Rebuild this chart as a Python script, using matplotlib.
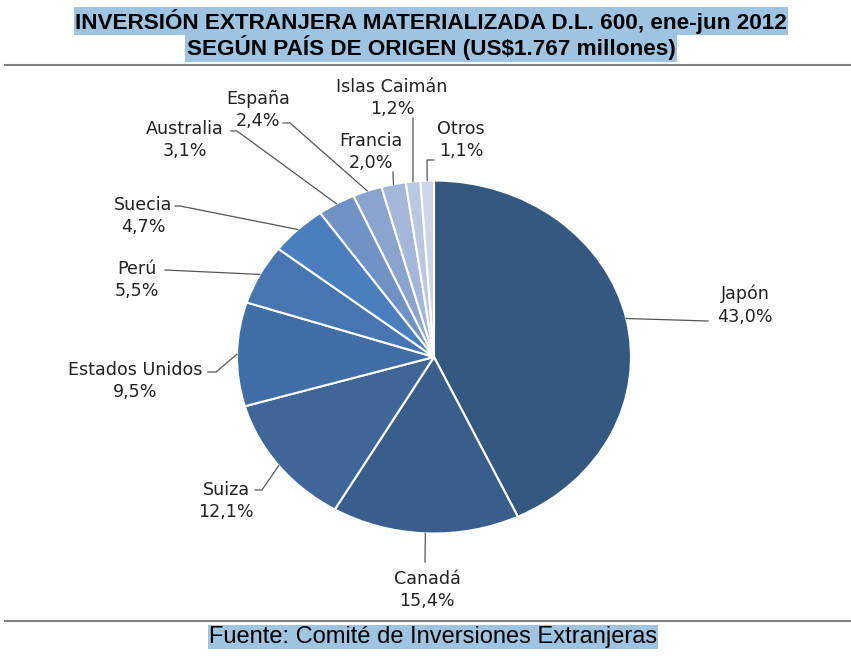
import matplotlib.pyplot as plt
import numpy as np

paises = ["Japón", "Canadá", "Suiza", "Estados Unidos", "Perú", "Suecia",
          "Australia", "España", "Francia", "Islas Caimán", "Otros"]
porcentajes = [43.0, 15.4, 12.1, 9.5, 5.5, 4.7, 3.1, 2.4, 2.0, 1.2, 1.1]
colores = ["#34587f", "#3a5e8c", "#3e6699", "#416ea6", "#4775af", "#4a7ebc",
           "#6f91c4", "#8ba4cf", "#a5b7d9", "#b9c7e1", "#cbd6ea"]

titulo_1 = "INVERSIÓN EXTRANJERA MATERIALIZADA D.L. 600, ene-jun 2012"
titulo_2 = "SEGÚN PAÍS DE ORIGEN (US$1.767 millones)"
fuente = "Fuente: Comité de Inversiones Extranjeras"

# pie placement in pixels (the original is a bit stretched horizontally)
cx, cy, rx, ry = 434, 357, 197, 176.5
W, H = 851, 659

# label centers and leader-line elbows, in pixels
label_pos = [(745, 305), (427, 590), (226, 501), (135, 381), (137, 280), (143, 216),
             (185, 140), (258, 110), (371, 152), (392, 98), (461, 140)]
elbows = [[(708, 321)], [(425, 562)], [(262, 490), (255, 490)],
          [(216, 372), (208, 372)], [(165, 270)], [(180, 206), (175, 206)],
          [(237, 131), (231, 131)], [(290, 123), (283, 123)], [(393, 172)],
          [(413, 118)], [(427, 160), (434, 160)]]


def px(x, y):
    return (x - cx) / rx, (cy - y) / ry


title_font = ["Liberation Sans", "DejaVu Sans"]
label_font = ["DejaVu Sans"]
highlight = "#9fc4e2"

fig = plt.figure(figsize=(W / 100, H / 100), dpi=100)
ax = fig.add_axes([0, 0, 1, 1])

wedges, _ = ax.pie(porcentajes, colors=colores, startangle=90, counterclock=False,
                   wedgeprops=dict(edgecolor="white", linewidth=1.5))
ax.set_xlim(-cx / rx, (W - cx) / rx)
ax.set_ylim(-(H - cy) / ry, cy / ry)
ax.set_aspect("auto")
ax.axis("off")

for w, name, val, pos, elb in zip(wedges, paises, porcentajes, label_pos, elbows):
    ang = np.deg2rad((w.theta1 + w.theta2) / 2)
    xs = [np.cos(ang)] + [px(*p)[0] for p in elb]
    ys = [np.sin(ang)] + [px(*p)[1] for p in elb]
    ax.plot(xs, ys, color="#555555", linewidth=0.9)
    txt = name + "\n" + f"{val:.1f}%".replace(".", ",")
    ax.text(*px(*pos), txt, ha="center", va="center", multialignment="center",
            fontsize=12.6, family=label_font, color="#222222", linespacing=1.35)

bb = dict(facecolor=highlight, edgecolor="none", pad=1.0)
fig.text(431 / W, 1 - 21 / H, titulo_1, ha="center", va="center", fontsize=16.2,
         fontweight="bold", family=title_font, bbox=bb)
fig.text(431 / W, 1 - 48 / H, titulo_2, ha="center", va="center", fontsize=16.2,
         fontweight="bold", family=title_font, bbox=bb)
fig.text(433 / W, 1 - 637 / H, fuente, ha="center", va="center", fontsize=17,
         family=title_font, bbox=bb)

fig.add_artist(plt.Line2D([5 / W, 1], [1 - 65 / H] * 2, color="#808080", linewidth=1.5))
fig.add_artist(plt.Line2D([5 / W, 1], [1 - 621 / H] * 2, color="#808080", linewidth=1.5))

fig.savefig("out.png", dpi=100)
